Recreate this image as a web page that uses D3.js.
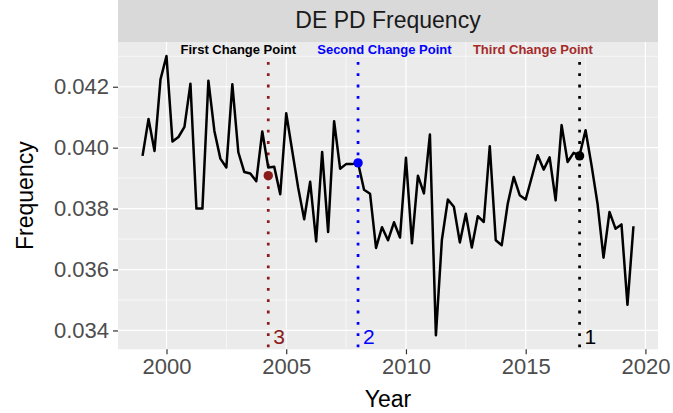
<!DOCTYPE html>
<html>
<head>
<meta charset="utf-8">
<script src="https://cdn.jsdelivr.net/npm/d3@7"></script>
<style>
  body { margin: 0; background: #fff; }
  text { font-family: "Liberation Sans", Arial, sans-serif; }
</style>
</head>
<body>
<div id="my_dataviz"></div>
<script>
// quarterly values, one row per year (Q1..Q4)
var years = [1999, 2000, 2001, 2002, 2003, 2004, 2005, 2006, 2007, 2008,
             2009, 2010, 2011, 2012, 2013, 2014, 2015, 2016, 2017, 2018, 2019];
var freq = [
  [0.03973, 0.04094, 0.03989, 0.04224],
  [0.04301, 0.04020, 0.04035, 0.04068],
  [0.04210, 0.03800, 0.03800, 0.04220],
  [0.04055, 0.03964, 0.03935, 0.04208],
  [0.03985, 0.03920, 0.03915, 0.03890],
  [0.04053, 0.03935, 0.03937, 0.03847],
  [0.04113, 0.03990, 0.03868, 0.03765],
  [0.03888, 0.03692, 0.03986, 0.03723],
  [0.04087, 0.03931, 0.03946, 0.03946],
  [0.03950, 0.03862, 0.03849, 0.03671],
  [0.03739, 0.03696, 0.03755, 0.03705],
  [0.03967, 0.03686, 0.03908, 0.03850],
  [0.04043, 0.03384, 0.03697, 0.03830],
  [0.03806, 0.03689, 0.03783, 0.03672],
  [0.03775, 0.03756, 0.04005, 0.03696],
  [0.03680, 0.03816, 0.03904, 0.03844],
  [0.03830, 0.03902, 0.03975, 0.03928],
  [0.03968, 0.03827, 0.04074, 0.03953],
  [0.03983, 0.03975, 0.04057, 0.03942],
  [0.03816, 0.03639, 0.03789, 0.03734],
  [0.03748, 0.03484, 0.03742]
];

// change points
var cpNames  = ["First Change Point", "Second Change Point", "Third Change Point"];
var cpIds    = ["1", "2", "3"];
var cpDates  = [2017.25, 2008.0, 2004.25];
var cpValues = [0.03973, 0.03950, 0.03908];
var cpLabelDates = [2003.0, 2009.1, 2015.3];   // where the names sit at the top
var cpColors = ["#000000", "#0000FF", "#8B1A1A"];
var cpTextColors = ["#000000", "#0000FF", "#A52A2A"];

var xTicks = [2000, 2005, 2010, 2015, 2020];
var yTicks = [0.034, 0.036, 0.038, 0.040, 0.042];
var title = "DE PD Frequency";

var data = [];
years.forEach(function(y, i) {
  freq[i].forEach(function(v, q) { data.push({date: y + q / 4, value: v}); });
});
var cps = cpNames.map(function(n, i) {
  return {name: n, id: cpIds[i], date: cpDates[i], value: cpValues[i],
          labelDate: cpLabelDates[i], color: cpColors[i], textColor: cpTextColors[i]};
});

var W = 673, H = 413;
var panel = {left: 118, right: 658, top: 42, bottom: 349.3};

var svg = d3.select("#my_dataviz")
  .append("svg")
    .attr("width", W)
    .attr("height", H);

// ggplot style 5% expansion
function expand(ext) {
  var d = (ext[1] - ext[0]) * 0.05;
  return [ext[0] - d, ext[1] + d];
}
var x = d3.scaleLinear()
  .domain(expand(d3.extent(data, function(d) { return d.date; })))
  .range([panel.left, panel.right]);
var allVals = data.map(function(d) { return d.value; }).concat(cpValues);
var y = d3.scaleLinear()
  .domain(expand(d3.extent(allVals)))
  .range([panel.bottom, panel.top]);

// strip
svg.append("rect")
  .attr("x", panel.left).attr("y", 0)
  .attr("width", panel.right - panel.left).attr("height", panel.top)
  .attr("fill", "#D9D9D9");
svg.append("text")
  .attr("x", (panel.left + panel.right) / 2).attr("y", 28)
  .attr("text-anchor", "middle")
  .attr("font-size", 23)
  .attr("fill", "#1A1A1A")
  .text(title);

// panel background
svg.append("rect")
  .attr("x", panel.left).attr("y", panel.top)
  .attr("width", panel.right - panel.left).attr("height", panel.bottom - panel.top)
  .attr("fill", "#EBEBEB");

// grid
var xMinor = [2002.5, 2007.5, 2012.5, 2017.5];
var yMinor = [0.035, 0.037, 0.039, 0.041, 0.043];
var grid = svg.append("g");
grid.selectAll(".xm").data(xMinor).enter().append("line")
  .attr("x1", x).attr("x2", x).attr("y1", panel.top).attr("y2", panel.bottom)
  .attr("stroke", "#fff").attr("stroke-width", 0.6);
grid.selectAll(".ym").data(yMinor).enter().append("line")
  .attr("y1", y).attr("y2", y).attr("x1", panel.left).attr("x2", panel.right)
  .attr("stroke", "#fff").attr("stroke-width", 0.6);
grid.selectAll(".xg").data(xTicks).enter().append("line")
  .attr("x1", x).attr("x2", x).attr("y1", panel.top).attr("y2", panel.bottom)
  .attr("stroke", "#fff").attr("stroke-width", 1.2);
grid.selectAll(".yg").data(yTicks).enter().append("line")
  .attr("y1", y).attr("y2", y).attr("x1", panel.left).attr("x2", panel.right)
  .attr("stroke", "#fff").attr("stroke-width", 1.2);

// axes
var xAxis = svg.append("g")
  .attr("transform", "translate(0," + panel.bottom + ")")
  .call(d3.axisBottom(x).tickValues(xTicks).tickFormat(d3.format("d")).tickSize(5).tickPadding(4));
var yAxis = svg.append("g")
  .attr("transform", "translate(" + panel.left + ",0)")
  .call(d3.axisLeft(y).tickValues(yTicks).tickFormat(d3.format(".3f")).tickSize(5).tickPadding(4));
[xAxis, yAxis].forEach(function(a) {
  a.select(".domain").remove();
  a.selectAll(".tick line").attr("stroke", "#333333").attr("stroke-width", 1.2);
  a.selectAll(".tick text").attr("fill", "#4D4D4D").attr("font-size", 22)
    .attr("font-family", "Liberation Sans, Arial, sans-serif");
});

// axis titles
svg.append("text")
  .attr("x", (panel.left + panel.right) / 2).attr("y", 407)
  .attr("text-anchor", "middle").attr("font-size", 23).attr("fill", "#000")
  .text("Year");
svg.append("text")
  .attr("transform", "translate(33," + ((panel.top + panel.bottom) / 2) + ") rotate(-90)")
  .attr("text-anchor", "middle").attr("font-size", 23).attr("fill", "#000")
  .text("Frequency");

// change point lines
svg.selectAll(".cpline").data(cps).enter().append("line")
  .attr("x1", function(d) { return x(d.date); })
  .attr("x2", function(d) { return x(d.date); })
  .attr("y1", 62).attr("y2", panel.bottom)
  .attr("stroke", function(d) { return d.color; })
  .attr("stroke-width", 2.7)
  .attr("stroke-dasharray", "2.8 8.5");

// the series
svg.append("path")
  .datum(data)
  .attr("fill", "none")
  .attr("stroke", "#000")
  .attr("stroke-width", 2.5)
  .attr("stroke-linejoin", "round")
  .attr("d", d3.line()
    .x(function(d) { return x(d.date); })
    .y(function(d) { return y(d.value); }));

// change point markers
svg.selectAll(".cpdot").data(cps).enter().append("circle")
  .attr("cx", function(d) { return x(d.date); })
  .attr("cy", function(d) { return y(d.value); })
  .attr("r", 4.7)
  .attr("fill", function(d) { return d.color; });

// numbers at the bottom
svg.selectAll(".cpid").data(cps).enter().append("text")
  .attr("x", function(d) { return x(d.date) + 5; })
  .attr("y", panel.bottom - 5)
  .attr("font-size", 21)
  .attr("fill", function(d) { return d.color; })
  .text(function(d) { return d.id; });

// names at the top
svg.selectAll(".cpname").data(cps).enter().append("text")
  .attr("x", function(d) { return x(d.labelDate); })
  .attr("y", 54)
  .attr("text-anchor", "middle")
  .attr("font-size", 13)
  .attr("font-weight", "bold")
  .attr("fill", function(d) { return d.textColor; })
  .text(function(d) { return d.name; });
</script>
</body>
</html>
